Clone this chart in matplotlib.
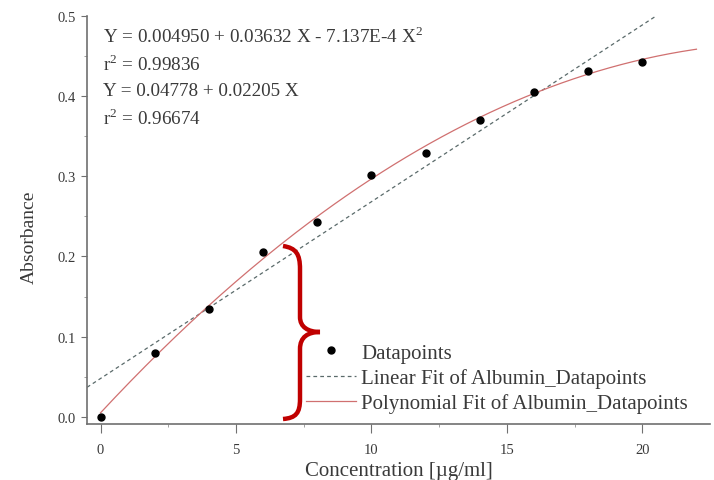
import numpy as np
import matplotlib.pyplot as plt
from matplotlib.path import Path
from matplotlib.patches import PathPatch

plt.rcParams['font.family'] = ['Liberation Serif', 'DejaVu Serif']

# measured absorbance of albumin standards
conc = [0, 2, 4, 6, 8, 10, 12, 14, 16, 18, 20]
absorb = [0.000, 0.080, 0.135, 0.206, 0.243, 0.302, 0.329, 0.370, 0.405, 0.431, 0.443]

# fit coefficients
lin_a, lin_b = 0.04778, 0.02205
poly_c = [0.004950, 0.03632, -7.137e-4]

txt_col = '#3a3a3a'

fig = plt.figure(figsize=(7.14, 4.81), dpi=100)
ax = fig.add_axes([87 / 714, 1 - 425 / 481, (710 - 87) / 714, (425 - 17) / 481])

xl = np.linspace(-0.5, 22.5, 200)
ax.plot(xl, lin_a + lin_b * xl, ls=(0, (3, 2.5)), color='#5a6a6a', lw=0.9,
        label='Linear Fit of Albumin_Datapoints')
xp = np.linspace(0, 22, 200)
ax.plot(xp, poly_c[0] + poly_c[1] * xp + poly_c[2] * xp**2, color='#d07070', lw=0.9,
        label='Polynomial Fit of Albumin_Datapoints')
ax.plot(conc, absorb, 'o', color='black', ms=5, label='Datapoints')

ax.set_xlim(-0.5, 22.5)
ax.set_ylim(-0.009, 0.5)
ax.set_xticks([0, 5, 10, 15, 20])
ax.set_yticks([0.0, 0.1, 0.2, 0.3, 0.4, 0.5])
ax.set_xticks(np.arange(0, 22.5, 2.5), minor=True)
ax.set_yticks(np.arange(0, 0.51, 0.05), minor=True)
ax.yaxis.set_major_formatter(plt.FuncFormatter(lambda v, p: '%.1f' % v))
for s in ['top', 'right']:
    ax.spines[s].set_visible(False)
for s in ['left', 'bottom']:
    ax.spines[s].set_color('#707070')
    ax.spines[s].set_linewidth(1.2)
ax.tick_params(which='major', direction='out', color='#707070',
               labelsize=10.5, labelcolor=txt_col)
ax.tick_params(axis='x', which='major', length=6.5, pad=7)
ax.tick_params(axis='y', which='major', length=4, pad=4)
ax.tick_params(which='minor', direction='out', length=2.5, color='#909090')
ax.set_xlabel('Concentration [µg/ml]', fontsize=15, color=txt_col, labelpad=4)
ax.set_ylabel('Absorbance', fontsize=14, color=txt_col)
ax.yaxis.set_label_coords(-0.079, 0.46)

sq = r'$^{\mathregular{2}}$'
eqs = ['Y = 0.004950 + 0.03632 X - 7.137E-4 X' + sq, 'r' + sq + ' = 0.99836',
       'Y = 0.04778 + 0.02205 X', 'r' + sq + ' = 0.96674']
for i, t in enumerate(eqs):
    fig.text(103 / 714, 1 - (37 + 27.3 * i) / 481, t, fontsize=13.8,
             color=txt_col, va='center')

h, l = ax.get_legend_handles_labels()
order = [2, 0, 1]
ax.legend([h[i] for i in order], [l[i] for i in order], loc='upper left',
          bbox_to_anchor=(306 / 714, 1 - 344 / 481),
          bbox_transform=fig.transFigure, borderpad=0, borderaxespad=0,
          frameon=False, fontsize=15, labelcolor=txt_col,
          handlelength=2.4, handletextpad=0.25, labelspacing=0.26)

# red curly brace
pts = [(283, 247), (296, 249), (300, 255), (300, 270),
       (300, 318),
       (300, 328), (308, 333), (320, 333),
       (308, 333), (300, 338), (300, 350),
       (300, 400),
       (300, 414), (296, 419), (283, 420)]
codes = [Path.MOVETO, Path.CURVE4, Path.CURVE4, Path.CURVE4,
         Path.LINETO,
         Path.CURVE4, Path.CURVE4, Path.CURVE4,
         Path.CURVE4, Path.CURVE4, Path.CURVE4,
         Path.LINETO,
         Path.CURVE4, Path.CURVE4, Path.CURVE4]
verts = [(x / 714, 1 - y / 481) for x, y in pts]
fig.patches.append(PathPatch(Path(verts, codes), transform=fig.transFigure,
                             fill=False, edgecolor='#c00000', lw=3.2,
                             capstyle='butt'))

fig.savefig('out.png', dpi=100)
